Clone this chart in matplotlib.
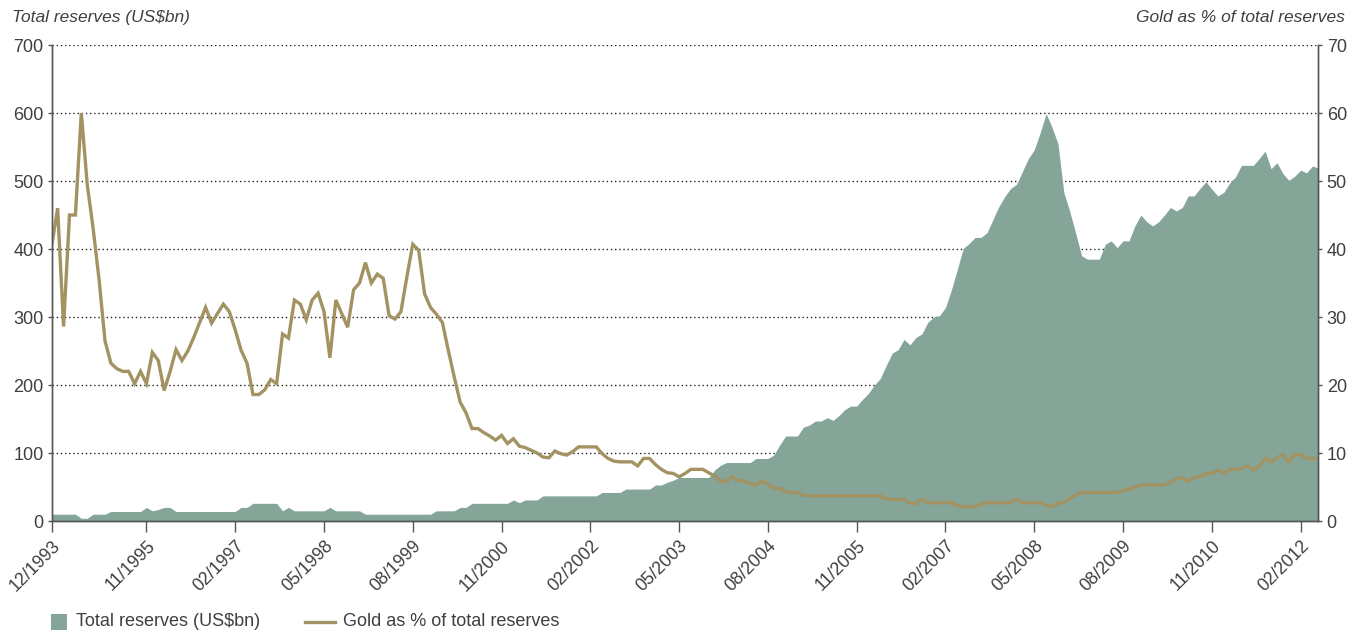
import matplotlib
matplotlib.use("Agg")
import matplotlib.pyplot as plt
from matplotlib.patches import Rectangle
from matplotlib.lines import Line2D
from matplotlib.transforms import ScaledTranslation

tickLabels = ["12/1993", "11/1995", "02/1997", "05/1998", "08/1999", "11/2000", "02/2002",
              "05/2003", "08/2004", "11/2005", "02/2007", "05/2008", "08/2009", "11/2010", "02/2012"]
tickIndex = [0, 16, 31, 46, 61, 76, 91, 106, 121, 136, 151, 166, 181, 196, 211]

# total reserves, US$bn (one value per data point)
reserves = [10, 10, 10, 10, 10, 4, 4, 10, 10, 10,
            14, 14, 14, 14, 14, 14, 20, 15, 17, 20,
            20, 14, 14, 14, 14, 14, 14, 14, 14, 14,
            14, 14, 20, 20, 26, 26, 26, 26, 26, 15,
            20, 15, 15, 15, 15, 15, 15, 20, 15, 15,
            15, 15, 15, 10, 10, 10, 10, 10, 10, 10,
            10, 10, 10, 10, 10, 15, 15, 15, 15, 20,
            20, 26, 26, 26, 26, 26, 26, 26, 31, 27,
            31, 31, 31, 37, 37, 37, 37, 37, 37, 37,
            37, 37, 37, 42, 42, 42, 42, 47, 47, 47,
            47, 47, 53, 53, 57, 60, 64, 64, 64, 64,
            64, 64, 75, 82, 86, 86, 86, 86, 86, 92,
            92, 92, 97, 112, 125, 125, 125, 138, 141, 147,
            147, 152, 148, 155, 164, 169, 169, 179, 188, 200,
            210, 229, 247, 252, 267, 259, 270, 275, 292, 300,
            302, 314, 340, 370, 401, 408, 417, 417, 424, 443,
            462, 477, 489, 495, 514, 533, 546, 571, 599, 579,
            555, 483, 455, 423, 390, 385, 385, 385, 407, 412,
            402, 412, 412, 434, 450, 440, 434, 440, 450, 461,
            456, 461, 478, 478, 489, 499, 488, 478, 483, 497,
            506, 523, 523, 523, 533, 544, 518, 527, 511, 501,
            507, 516, 512, 522, 519]

# gold as % of total reserves
goldPct = [40.5, 46, 28.6, 45, 45, 60, 49.5, 43, 35.5, 26.5,
           23.2, 22.4, 22, 22, 20.2, 22, 20.2, 24.8, 23.6, 19.2,
           22, 25.2, 23.6, 25, 27, 29.2, 31.4, 29.1, 30.5, 31.9,
           30.8, 28.1, 25.1, 23.2, 18.6, 18.6, 19.3, 20.8, 20.2, 27.5,
           26.9, 32.5, 31.9, 29.6, 32.5, 33.5, 30.8, 24, 32.5, 30.5,
           28.5, 34, 35, 38, 35, 36.3, 35.7, 30.2, 29.7, 30.8,
           35.9, 40.7, 39.8, 33.4, 31.4, 30.4, 29.2, 25.1, 21.2, 17.5,
           15.9, 13.6, 13.6, 13, 12.5, 11.9, 12.6, 11.4, 12.1, 11,
           10.8, 10.4, 10, 9.4, 9.3, 10.3, 9.9, 9.7, 10.2, 10.9,
           10.9, 10.9, 10.9, 9.9, 9.2, 8.8, 8.7, 8.7, 8.7, 8.1,
           9.2, 9.2, 8.3, 7.6, 7.1, 7.0, 6.5, 7.0, 7.6, 7.6,
           7.6, 7.1, 6.6, 5.9, 5.8, 6.5, 5.9, 5.9, 5.5, 5.3,
           5.9, 5.4, 4.8, 4.8, 4.3, 4.2, 4.2, 3.8, 3.7, 3.7,
           3.7, 3.7, 3.7, 3.7, 3.7, 3.7, 3.7, 3.7, 3.7, 3.7,
           3.7, 3.2, 3.2, 3.2, 3.2, 2.6, 2.6, 3.2, 2.7, 2.7,
           2.7, 2.7, 2.7, 2.3, 2.1, 2.1, 2.1, 2.5, 2.7, 2.7,
           2.7, 2.7, 2.7, 3.2, 2.7, 2.7, 2.7, 2.7, 2.3, 2.1,
           2.6, 2.8, 3.3, 3.8, 4.2, 4.2, 4.2, 4.2, 4.2, 4.2,
           4.2, 4.5, 4.7, 5.0, 5.3, 5.3, 5.3, 5.3, 5.3, 5.7,
           6.2, 6.4, 5.8, 6.4, 6.5, 7.0, 7.0, 7.5, 7.0, 7.6,
           7.6, 7.7, 8.1, 7.5, 8.1, 9.2, 8.7, 9.3, 9.8, 8.6,
           9.8, 9.8, 9.2, 9.2, 9.2]

areaColor = "#84a598"
lineColor = "#a39262"
textColor = "#3f3f3f"
axisColor = "#555555"

plt.rcParams["font.family"] = ["Liberation Sans", "DejaVu Sans"]

x = list(range(len(reserves)))

fig = plt.figure(figsize=(13.54, 6.33), dpi=100)
ax = fig.add_axes([0.0382, 0.1769, 0.9355, 0.752])
ax.fill_between(x, 0, reserves, color=areaColor, linewidth=0, zorder=1)
ax.set_axisbelow(True)
ax.yaxis.grid(True, color="#222222", linestyle=(0, (1, 2)), linewidth=1.0)
ax.set_xlim(0, len(reserves) - 1)
ax.set_ylim(0, 700)
ax.set_yticks(range(0, 701, 100))
ax.set_xticks(tickIndex)
ax.set_xticklabels(tickLabels, rotation=45, ha="right", rotation_mode="anchor")
shift = ScaledTranslation(0.08, 0, fig.dpi_scale_trans)
for lab in ax.get_xticklabels():
    lab.set_transform(lab.get_transform() + shift)

ax2 = ax.twinx()
ax2.plot(x, goldPct, color=lineColor, linewidth=2.4, solid_joinstyle="miter")
ax2.set_ylim(0, 70)
ax2.set_yticks(range(0, 71, 10))

for a in (ax, ax2):
    a.spines["top"].set_visible(False)
    for s in ("left", "right", "bottom"):
        a.spines[s].set_color(axisColor)
        a.spines[s].set_linewidth(1.0)
    a.tick_params(axis="y", length=3, width=1, color=axisColor, labelsize=13,
                  labelcolor=textColor, pad=3)
ax.tick_params(axis="x", length=8, width=1, color=axisColor, labelsize=12.8,
               labelcolor=textColor, pad=4)

fig.text(0.009, 0.972, "Total reserves (US$bn)", style="italic", fontsize=12.5,
         color=textColor, ha="left", va="center")
fig.text(0.993, 0.972, "Gold as % of total reserves", style="italic", fontsize=12.5,
         color=textColor, ha="right", va="center")

# legend along the bottom
legY = 1 - 622 / 633
fig.add_artist(Rectangle((51 / 1354, 3 / 633), 16 / 1354, 16 / 633,
                         transform=fig.transFigure, facecolor=areaColor, edgecolor="none"))
fig.text(76 / 1354, legY, "Total reserves (US$bn)", fontsize=13, color=textColor,
         ha="left", va="center")
fig.add_artist(Line2D([305 / 1354, 335 / 1354], [legY, legY], transform=fig.transFigure,
                      color=lineColor, linewidth=2.4))
fig.text(343 / 1354, legY, "Gold as % of total reserves", fontsize=13, color=textColor,
         ha="left", va="center")

fig.savefig("out.png", dpi=100)
